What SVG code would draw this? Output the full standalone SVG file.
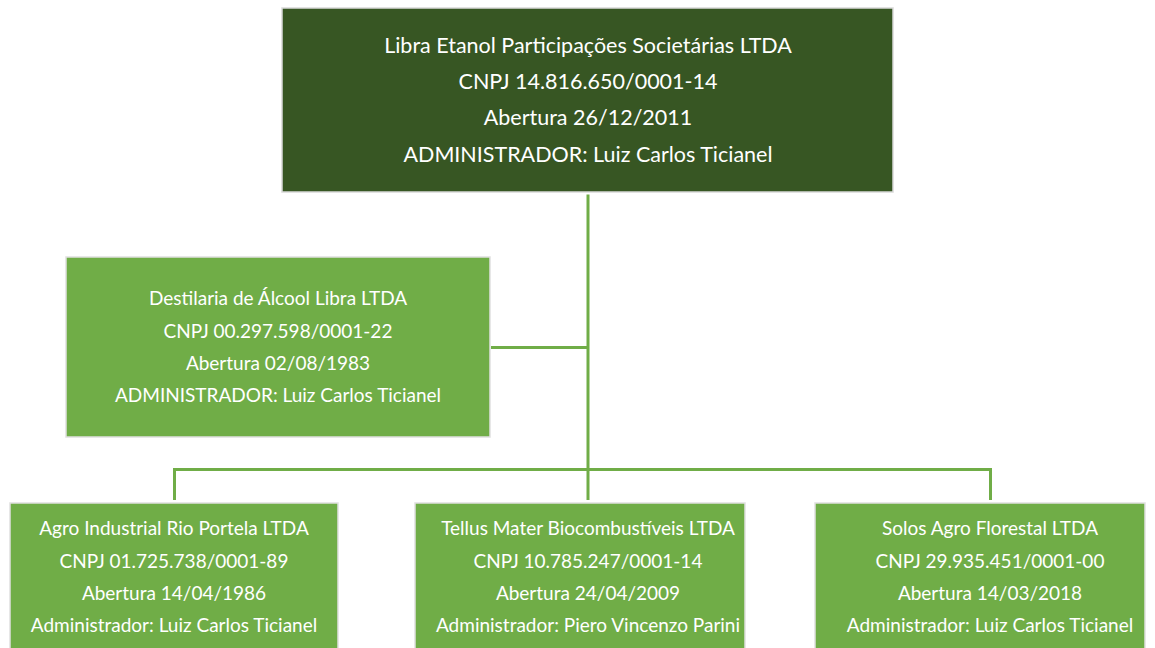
<svg xmlns="http://www.w3.org/2000/svg" width="1155" height="648" viewBox="0 0 1155 648">
<style>
.dark{fill:#375623;stroke:#d9d9d9;stroke-width:1.5}
.light{fill:#70ad47;stroke:#e0e0e0;stroke-width:1.5}
text{font-family:Lato,"Open Sans","Liberation Sans",sans-serif;fill:#fff;text-anchor:middle}
.t1{font-size:21.5px}
.t2{font-size:19px}
.conn{stroke:#70ad47;stroke-width:3;fill:none}
</style>
<rect width="1155" height="648" fill="#fff"/>
<g id="connectors">
<path class="conn" d="M588 194.5V500"/>
<path class="conn" d="M491 347.5H588"/>
<path class="conn" d="M174.5 500V469.5H990.5V500"/>
</g>
<g id="node-libra-etanol">
<rect class="dark" x="282" y="8" width="611" height="184"/>
<text class="t1" x="588" y="53">Libra Etanol Participações Societárias LTDA</text>
<text class="t1" x="588" y="89">CNPJ 14.816.650/0001-14</text>
<text class="t1" x="588" y="125">Abertura 26/12/2011</text>
<text class="t1" x="588" y="162">ADMINISTRADOR: Luiz Carlos Ticianel</text>
</g>
<g id="node-destilaria">
<rect class="light" x="66" y="257" width="424" height="180"/>
<text class="t2" x="278" y="305">Destilaria de Álcool Libra LTDA</text>
<text class="t2" x="278" y="338">CNPJ 00.297.598/0001-22</text>
<text class="t2" x="278" y="370">Abertura 02/08/1983</text>
<text class="t2" x="278" y="402">ADMINISTRADOR: Luiz Carlos Ticianel</text>
</g>
<g id="node-agro-industrial">
<rect class="light" x="10" y="503" width="328" height="150" stroke="none"/>
<text class="t2" x="174" y="535">Agro Industrial Rio Portela LTDA</text>
<text class="t2" x="174" y="568">CNPJ 01.725.738/0001-89</text>
<text class="t2" x="174" y="600">Abertura 14/04/1986</text>
<text class="t2" x="174" y="632">Administrador: Luiz Carlos Ticianel</text>
</g>
<g id="node-tellus-mater">
<rect class="light" x="415" y="503" width="330" height="150" stroke="none"/>
<text class="t2" x="588" y="535">Tellus Mater Biocombustíveis LTDA</text>
<text class="t2" x="588" y="568">CNPJ 10.785.247/0001-14</text>
<text class="t2" x="588" y="600">Abertura 24/04/2009</text>
<text class="t2" x="588" y="632">Administrador: Piero Vincenzo Parini</text>
</g>
<g id="node-solos-agro">
<rect class="light" x="815" y="503" width="330" height="150" stroke="none"/>
<text class="t2" x="990" y="535">Solos Agro Florestal LTDA</text>
<text class="t2" x="990" y="568">CNPJ 29.935.451/0001-00</text>
<text class="t2" x="990" y="600">Abertura 14/03/2018</text>
<text class="t2" x="990" y="632">Administrador: Luiz Carlos Ticianel</text>
</g>
</svg>
